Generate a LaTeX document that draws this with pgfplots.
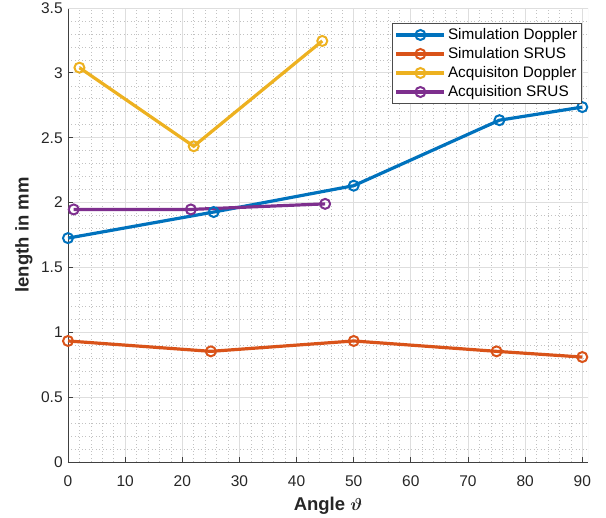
\documentclass[border=0pt]{standalone}
\usepackage{bm}
\usepackage{fontspec}
\setmainfont{Liberation Sans}
\usepackage{pgfplots}
\pgfplotsset{compat=1.18}

\definecolor{mblue}{rgb}{0,0.447,0.741}
\definecolor{morange}{rgb}{0.85,0.325,0.098}
\definecolor{myellow}{rgb}{0.929,0.694,0.125}
\definecolor{mpurple}{rgb}{0.494,0.184,0.556}

\begin{document}
\fontsize{15.5}{18}\selectfont
\begin{tikzpicture}
\useasboundingbox (-68pt,-56pt) rectangle (538pt,462pt);
\begin{axis}[
    scale only axis,
    width=520pt, height=454pt,
    xmin=0, xmax=91, ymin=0, ymax=3.5,
    xtick={0,10,...,90},
    ytick={0,0.5,...,3.5},
    yticklabels={0,0.5,1,1.5,2,2.5,3,3.5},
    minor x tick num=4,
    minor y tick num=4,
    axis lines*=left,
    axis line style={black!75, line width=0.9pt},
    tick style={black!75, line width=0.9pt},
    tick align=inside,
    major tick length=5pt,
    minor tick length=0pt,
    grid=both,
    major grid style={black!13, line width=0.8pt},
    minor grid style={black!24, line width=0.6pt, dash pattern=on 0.7pt off 2.8pt},
    tick label style={font=\fontsize{15.5}{18}\selectfont, text=black!85},
    xticklabel style={yshift=-8pt},
    /pgf/number format/assume math mode=true,
    xlabel={\textbf{Angle $\bm{\vartheta}$}},
    ylabel={\textbf{length in mm}},
    label style={font=\fontsize{18.5}{21}\selectfont, text=black!85},
    xlabel style={yshift=0pt},
    ylabel style={yshift=-2pt},
    legend style={at={(rel axis cs:0.623,0.966)}, anchor=north west,
        draw=black!70, line width=0.7pt, fill=white,
        font=\fontsize{15.3}{17}\selectfont,
        row sep=1.6pt, inner sep=2.5pt},
    legend cell align=left,
    legend image code/.code={
        \draw[#1, line width=3.2pt] (0pt,0pt) -- (48pt,0pt);
        \draw[#1, line width=2pt, mark repeat=1] plot coordinates {(24pt,0pt)};
    },
    every axis plot/.append style={line width=3.2pt, mark=o,
        mark size=5pt, mark options={line width=2pt}},
]
\draw[black!13, line width=0.8pt] (rel axis cs:0,1) -- (rel axis cs:1,1) -- (rel axis cs:1,0);
\addplot[color=mblue] coordinates {(0,1.726) (25.5,1.927) (50,2.13) (75.5,2.635) (90,2.736)};
\addplot[color=morange] coordinates {(0,0.933) (25,0.853) (50,0.933) (75,0.853) (90,0.809)};
\addplot[color=myellow] coordinates {(2,3.04) (22,2.434) (44.5,3.246)};
\addplot[color=mpurple] coordinates {(1,1.947) (21.5,1.947) (45,1.99)};
\legend{Simulation Doppler, Simulation SRUS, Acquisiton Doppler, Acquisition SRUS}
\end{axis}
\end{tikzpicture}
\end{document}
